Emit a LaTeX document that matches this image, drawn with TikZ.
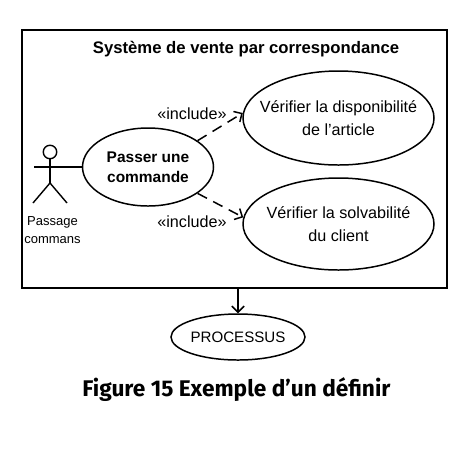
\documentclass[tikz,border=0pt]{standalone}
\usepackage{fontspec}
\setmainfont{Liberation Sans}
\newfontfamily\captionfont{Fira Sans}
\usetikzlibrary{shapes.geometric}
\usetikzlibrary{arrows.meta}
\begin{document}
\begin{tikzpicture}[
    font=\fontsize{9.2}{13}\selectfont,
    usecase/.style={ellipse,draw,inner sep=0pt,line width=0.85pt},
    label/.style={align=center,inner sep=0pt},
    limb/.style={line width=0.8pt},
    include/.style={-{Straight Barb[length=3.5pt,width=7pt]},dash pattern=on 6pt off 4pt,line width=0.85pt},
    arrow/.style={-{Straight Barb[length=3.5pt,width=7pt]},line width=0.85pt}
]
\useasboundingbox (0,0) rectangle (9.5,-9.34);

% cadre du systeme
\node[rectangle,draw,line width=1.1pt,minimum width=8.5cm,minimum height=5.15cm,inner sep=0pt] (system) at (4.69,-3.18) {};
\node[label,font=\fontsize{9.5}{12}\selectfont\bfseries] (title) at (4.92,-0.98) {Système de vente par correspondance};

% cas d'utilisation
\node[usecase,minimum width=2.62cm,minimum height=1.56cm] (commande) at (2.96,-3.34) {};
\node[usecase,minimum width=3.82cm,minimum height=1.88cm] (dispo) at (6.77,-2.36) {};
\node[usecase,minimum width=3.82cm,minimum height=1.84cm] (solva) at (6.77,-4.48) {};
\node[usecase,minimum width=2.68cm,minimum height=0.92cm] (processus) at (4.76,-6.74) {};
\node[label,font=\fontsize{8.8}{11.6}\selectfont\bfseries] (commandetext) at (commande) {Passer une\\commande};
\node[label] (dispotext) at (dispo) {Vérifier la disponibilité\\de l’article};
\node[label] (solvatext) at (solva) {Vérifier la solvabilité\\du client};
\node[label,font=\fontsize{8.6}{11}\selectfont] (processustext) at (processus) {PROCESSUS};

% acteur
\node[circle,draw,limb,minimum size=0.27cm,inner sep=0pt] (head) at (1,-3.04) {};
\coordinate (hip) at (1,-3.66);
\coordinate (arm) at (0.68,-3.34);
\coordinate (footl) at (0.66,-4.06);
\coordinate (footr) at (1.34,-4.06);
\draw[limb] (head) -- (hip);
\draw[limb] (hip) -- (footl);
\draw[limb] (hip) -- (footr);
\draw[limb] (arm) -- (commande);
\node[label,font=\fontsize{7.4}{10.2}\selectfont] (actor) at (1.05,-4.6) {Passage\\commans};

% liens
\draw[include] (commande.28) -- (dispo.177);
\draw[include] (commande.-28) -- (solva.176);
\draw[arrow] (system.south -| processus) -- (processus);
\node[label] (inc1) at (3.84,-2.28) {«include»};
\node[label] (inc2) at (3.84,-4.44) {«include»};

% legende
\node[label,font=\fontsize{12.9}{14}\selectfont\captionfont\bfseries] (caption) at (4.73,-7.8) {Figure 15 Exemple d’un définir};
\end{tikzpicture}
\end{document}
